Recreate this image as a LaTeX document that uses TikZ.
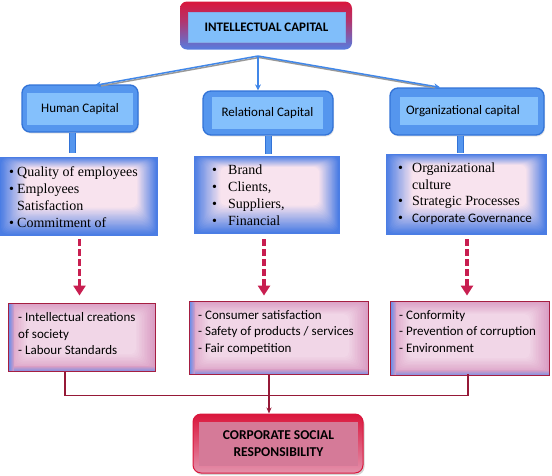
\documentclass[tikz,border=0pt]{standalone}
\usepackage{fontspec}
\setmainfont{Liberation Serif}
\newfontfamily\carl{Carlito}
\usetikzlibrary{arrows.meta,calc,shadows}

\definecolor{crim}{RGB}{218,22,60}
\definecolor{topblue}{RGB}{85,125,225}
\definecolor{topinner}{RGB}{128,190,250}
\definecolor{capfill}{RGB}{85,150,238}
\definecolor{capdraw}{RGB}{50,115,215}
\definecolor{capinner}{RGB}{132,192,252}
\definecolor{arrblue}{RGB}{65,135,232}
\definecolor{bbin}{RGB}{250,228,238}
\definecolor{bbout}{RGB}{75,125,228}
\definecolor{lowin}{RGB}{242,216,232}
\definecolor{lowout}{RGB}{218,158,196}
\definecolor{lowdraw}{RGB}{165,30,65}
\definecolor{edgeblue}{RGB}{90,140,240}
\definecolor{dashred}{RGB}{200,30,80}
\definecolor{linered}{RGB}{150,25,55}
\definecolor{csrbot}{RGB}{228,145,172}
\definecolor{csrin}{RGB}{213,122,152}

\pgfdeclareverticalshading{topshade}{100bp}{color(0bp)=(topblue); color(25bp)=(topblue); color(55bp)=(crim!70!topblue); color(75bp)=(crim); color(100bp)=(crim)}

\begin{document}
\begin{tikzpicture}[x=1pt,y=-1pt,
  topout/.style={rounded corners=7pt, shade, shading=topshade, draw=none, inner sep=0pt},
  topin/.style={fill=topinner, draw=capdraw!60, line width=0.4pt, inner sep=0pt, font=\carl\bfseries\fontsize{13}{16}\selectfont},
  capout/.style={rounded corners=8pt, fill=capfill, draw=capdraw, line width=1.3pt, inner sep=0pt,
    drop shadow={opacity=0.2, shadow xshift=1pt, shadow yshift=-1.5pt}},
  capin/.style={fill=capinner, inner sep=0pt, font=\carl\fontsize{13}{16}\selectfont},
  stemline/.style={draw=capdraw, double=capfill, double distance=5pt, line width=1pt},
  bbox/.style={fill=bbout, draw=bbout, line width=0.6pt, inner sep=0pt,
    path picture={
      \foreach \i in {1,...,22}{
        \pgfmathsetmacro\pct{100-\i*4.5}
        \fill[bbout!\pct!bbin, rounded corners=6pt]
          ([xshift=\i*1.2pt, yshift=\i*1.25pt]path picture bounding box.south west) rectangle
          ([xshift=-\i*0.9pt, yshift=-\i*0.5pt]path picture bounding box.north east);
      }
    }},
  lowbox/.style={fill=lowout, draw=lowdraw, line width=0.9pt, inner sep=0pt,
    path picture={
      \foreach \i in {1,...,12}{
        \pgfmathsetmacro\pct{100-\i*8}
        \fill[lowout!\pct!lowin, rounded corners=5pt]
          ([xshift=\i*1.6pt, yshift=\i*1.4pt]path picture bounding box.south west) rectangle
          ([xshift=-\i*1.6pt, yshift=-\i*1.1pt]path picture bounding box.north east);
      }
      \shade[left color=edgeblue, right color=lowout] (path picture bounding box.south west) rectangle ([xshift=6pt]path picture bounding box.north west);
      \shade[bottom color=edgeblue!70!lowout, top color=lowout] ([xshift=6pt]path picture bounding box.south west) rectangle ([yshift=5pt]path picture bounding box.south east);
    }},
  serftxt/.style={anchor=north west, inner sep=0pt, align=left, font=\fontsize{14}{17}\selectfont},
  caltxt/.style={anchor=north west, inner sep=0pt, align=left, font=\carl\fontsize{13}{16.8}\selectfont},
  arrblue/.style={draw=arrblue, line width=1.5pt, -{Stealth[length=6pt,width=6pt]}},
  arrshadow/.style={draw=black!40, line width=1.5pt, shorten >=5pt},
  dasharrow/.style={draw=dashred, line width=3.2pt, dash pattern=on 7pt off 3pt, -{Triangle[length=10pt,width=12pt]}},
  redline/.style={draw=linered, line width=1.2pt},
  csrout/.style={rounded corners=8pt, top color=crim, bottom color=csrbot, draw=crim, line width=1pt, inner sep=0pt,
    drop shadow={opacity=0.35, shadow xshift=1.5pt, shadow yshift=-2pt}},
  csrin/.style={fill=csrin, inner sep=0pt, font=\carl\bfseries\fontsize{13.5}{17}\selectfont}
]
\useasboundingbox (0,0) rectangle (552,475);

% top box
\node[topout, minimum width=172pt, minimum height=48pt] (ico) at (266,25.5) {};
\node[topin, minimum width=157pt, minimum height=30pt] (ici) at (266.5,27) {INTELLECTUAL CAPITAL};

% capital boxes
\node[capout, minimum width=116pt, minimum height=47pt] (hco) at (80,108.5) {};
\node[capin, minimum width=106pt, minimum height=32pt] (hci) at (80,109) {Human Capital};
\node[capout, minimum width=130pt, minimum height=44pt] (rco) at (268,113) {};
\node[capin, minimum width=111pt, minimum height=32pt] (rci) at (267.5,113) {Relational Capital};
\node[capout, minimum width=154pt, minimum height=47pt] (oco) at (467,111.5) {};
\node[capin, minimum width=138pt, minimum height=28pt] (oci) at (469,111) {\hspace*{-12pt}Organizational capital};

% blue arrows
\coordinate (apex) at (258,56);
\coordinate (hcin) at ($(hco.north)+(15,1)$);
\coordinate (rcin) at ($(rco.north)+(-10,0)$);
\coordinate (ocin) at ($(oco.north)+(-27,0)$);
\draw[arrshadow] ([xshift=1pt,yshift=-1.5pt]apex) -- ([xshift=1pt,yshift=-1.5pt]hcin);
\draw[arrshadow] ([xshift=1pt,yshift=-1.5pt]apex) -- ([xshift=1pt,yshift=-1.5pt]ocin);
\draw[arrblue] (apex) -- (hcin);
\draw[arrblue] (apex) -- (rcin);
\draw[arrblue] (apex) -- (ocin);

% bullet boxes
\node[bbox, minimum width=157pt, minimum height=78pt] (b1) at (78.5,196) {};
\node[bbox, minimum width=145pt, minimum height=77pt] (b2) at (266.5,194.5) {};
\node[bbox, minimum width=160pt, minimum height=80pt] (b3) at (466,194) {};

% stems
\draw[stemline] ($(hco.south)+(-8,0)$) -- ($(b1.north)+(-6.5,-4)$);
\draw[stemline] ($(rco.south)+(0.5,0)$) -- ($(b2.north)+(2,-2)$);
\draw[stemline] ($(oco.south)+(-6.5,0)$) -- ($(b3.north)+(-5.5,-1)$);

% bullet texts
\node[serftxt] (t1) at (9,166) {\makebox[8pt][l]{\textbullet}Quality of employees\\
\makebox[8pt][l]{\textbullet}Employees\\
\hspace*{8pt}Satisfaction\\
\makebox[8pt][l]{\textbullet}Commitment of};
\node[serftxt] (t2) at (212,165) {\makebox[16pt][l]{\textbullet}Brand\\
\makebox[16pt][l]{\textbullet}Clients,\\
\makebox[16pt][l]{\textbullet}Suppliers,\\
\makebox[16pt][l]{\textbullet}Financial};
\node[serftxt, font=\fontsize{14}{16.5}\selectfont] (t3) at (398,163) {\makebox[14pt][l]{\textbullet}Organizational\\
\hspace*{14pt}culture\\
\makebox[14pt][l]{\textbullet}Strategic Processes\\
\makebox[14pt][l]{\textbullet}{\carl\fontsize{13}{16.5}\selectfont Corporate Governance}};

% lower boxes
\node[lowbox, minimum width=147pt, minimum height=68pt] (lA) at (81.5,337) {};
\node[lowbox, minimum width=179pt, minimum height=73pt] (lB) at (278.5,337.5) {};
\node[lowbox, minimum width=159pt, minimum height=74pt] (lC) at (469.5,338) {};
\node[caltxt] (ta) at (18,312) {- Intellectual creations\\of society\\- Labour Standards};
\node[caltxt] (tb) at (198,310) {- Consumer satisfaction\\- Safety of products / services\\- Fair competition};
\node[caltxt] (tc) at (399,310) {- Conformity\\- Prevention of corruption\\- Environment};

% dashed arrows
\draw[dasharrow] ($(b1.south)+(1,4)$) -- ($(lA.north)+(-2,-7)$);
\draw[dasharrow] ($(b2.south)+(-2.5,6)$) -- ($(lB.north)+(-14.5,-5)$);
\draw[dasharrow] ($(b3.south)+(1,5)$) -- ($(lC.north)+(-2.5,-5)$);

% CSR box
\node[csrout, minimum width=170pt, minimum height=59pt] (csro) at (278,443.5) {};
\node[csrin, minimum width=159pt, minimum height=44pt, align=center] (csri) at (278.5,444) {CORPORATE SOCIAL\\RESPONSIBILITY};

% bottom connectors
\draw[redline] ($(lA.south)+(-16.5,1)$) -- ++(0,23) -| ($(lC.south)+(-1.5,-1)$);
\draw[redline, -{Stealth[length=6pt,width=5pt]}] ($(lB.south)+(-9.5,1)$) -- ($(csro.north)+(-9,0)$);
\end{tikzpicture}
\end{document}
